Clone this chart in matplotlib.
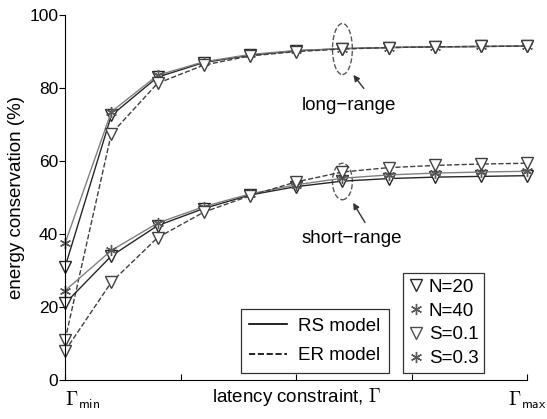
import matplotlib
matplotlib.use("Agg")
import matplotlib.pyplot as plt
from matplotlib.lines import Line2D
from matplotlib.patches import Ellipse

plt.rcParams['font.family'] = ['Liberation Sans', 'DejaVu Sans']
plt.rcParams['mathtext.fontset'] = 'cm'

# latency constraint steps, Gamma_min .. Gamma_max
steps = list(range(11))

# long-range group
rs_long_tri = [31, 72.5, 83, 87, 89, 90.2, 90.8, 91.1, 91.3, 91.4, 91.5]
rs_long_star = [37.5, 73.5, 83.5, 87.2, 89.2, 90.3, 90.8, 91.1, 91.3, 91.4, 91.5]
er_long_tri = [11, 67.5, 81.3, 86.3, 88.8, 90.0, 90.7, 91.1, 91.3, 91.4, 91.5]

# short-range group
rs_short_star = [24.5, 35.5, 43, 47.5, 51, 53.5, 55.3, 56.2, 56.7, 57, 57.2]
rs_short_tri = [21, 34, 42.3, 47, 50.7, 53, 54.5, 55.2, 55.6, 55.8, 56]
er_short_tri = [8, 26.8, 39, 46, 50.5, 54.3, 57, 58.2, 58.8, 59.2, 59.4]

x_ticks = [0, 2.5, 5, 7.5, 10]
x_ticklabels = [r'$\Gamma_{\mathsf{min}}$', '', '', '', r'$\Gamma_{\mathsf{max}}$']
y_ticks = [0, 20, 40, 60, 80, 100]

asterisk = (6, 2, 0)
fs = 13.5

fig = plt.figure(figsize=(5.47, 4.19), dpi=100)
ax = fig.add_axes([0.119, 0.093, 0.845, 0.871])

tri = dict(marker='v', markersize=8, markerfacecolor='white', markeredgewidth=1.0)
star = dict(marker=asterisk, markersize=8, markeredgewidth=1.0)

ax.plot(steps, rs_long_tri, '-', color='0.15', lw=1.0, markeredgecolor='0.15', clip_on=False, **tri)
ax.plot(steps, rs_long_star, '-', color='0.5', lw=1.0, markeredgecolor='0.35', clip_on=False, **star)
ax.plot(steps, er_long_tri, '--', color='0.25', lw=1.0, markeredgecolor='0.25', clip_on=False, **tri)

ax.plot(steps, rs_short_tri, '-', color='0.15', lw=1.0, markeredgecolor='0.15', clip_on=False, **tri)
ax.plot(steps, rs_short_star, '-', color='0.5', lw=1.0, markeredgecolor='0.35', clip_on=False, **star)
ax.plot(steps, er_short_tri, '--', color='0.25', lw=1.0, markeredgecolor='0.25', clip_on=False, **tri)

# annotations
ax.add_patch(Ellipse((6, 90.7), 0.43, 14, fill=False, ls='--', lw=1.0, ec='0.35'))
ax.annotate('', xy=(6.2, 84.2), xytext=(6.5, 79.3),
            arrowprops=dict(arrowstyle='-|>', color='0.2', lw=1.0, mutation_scale=9))
ax.text(6.15, 75.2, 'long\u2212range', ha='center', va='center', fontsize=fs)

ax.add_patch(Ellipse((6, 54.4), 0.43, 10, fill=False, ls='--', lw=1.0, ec='0.35'))
ax.annotate('', xy=(6.2, 49.2), xytext=(6.52, 42.5),
            arrowprops=dict(arrowstyle='-|>', color='0.2', lw=1.0, mutation_scale=9))
ax.text(6.2, 38.8, 'short\u2212range', ha='center', va='center', fontsize=fs)

ax.set_xlim(0, 10)
ax.set_ylim(0, 100)
ax.set_xticks(x_ticks)
ax.set_xticklabels(x_ticklabels, fontsize=14)
xt = ax.get_xticklabels()
xt[0].set_horizontalalignment('left')
ax.set_yticks(y_ticks)
ax.tick_params(axis='y', direction='out', length=4, labelsize=12.5, pad=1)
ax.tick_params(axis='x', direction='in', length=4, pad=7)
ax.spines['top'].set_visible(False)
ax.spines['right'].set_visible(False)
ax.set_ylabel('energy conservation (%)', fontsize=fs, labelpad=3)
ax.set_xlabel(r'latency constraint, $\Gamma$', fontsize=fs, labelpad=-18)

model_handles = [Line2D([], [], color='black', ls='-', lw=1.2),
                 Line2D([], [], color='black', ls='--', lw=1.2)]
leg1 = ax.legend(model_handles, ['RS model', 'ER model'], loc='lower left',
                 bbox_to_anchor=(0.38, 0.02), fontsize=fs, frameon=True,
                 fancybox=False, edgecolor='black', handlelength=2.0,
                 borderpad=0.45, labelspacing=0.65, handletextpad=0.6,
                 borderaxespad=0.0)
leg1.get_frame().set_linewidth(0.9)
ax.add_artist(leg1)

param_handles = [
    Line2D([], [], ls='none', color='0.15', markeredgecolor='0.15', **tri),
    Line2D([], [], ls='none', color='0.35', markeredgecolor='0.35', **star),
    Line2D([], [], ls='none', color='0.3', markeredgecolor='0.3', **tri),
    Line2D([], [], ls='none', color='0.35', markeredgecolor='0.35', **star),
]
leg2 = ax.legend(param_handles, ['N=20', 'N=40', 'S=0.1', 'S=0.3'], loc='lower left',
                 bbox_to_anchor=(0.73, 0.02), fontsize=fs, frameon=True,
                 fancybox=False, edgecolor='black', handlelength=0.8,
                 borderpad=0.3, labelspacing=0.35, handletextpad=0.3,
                 borderaxespad=0.0)
leg2.get_frame().set_linewidth(0.9)

fig.savefig('out.png', dpi=100)
